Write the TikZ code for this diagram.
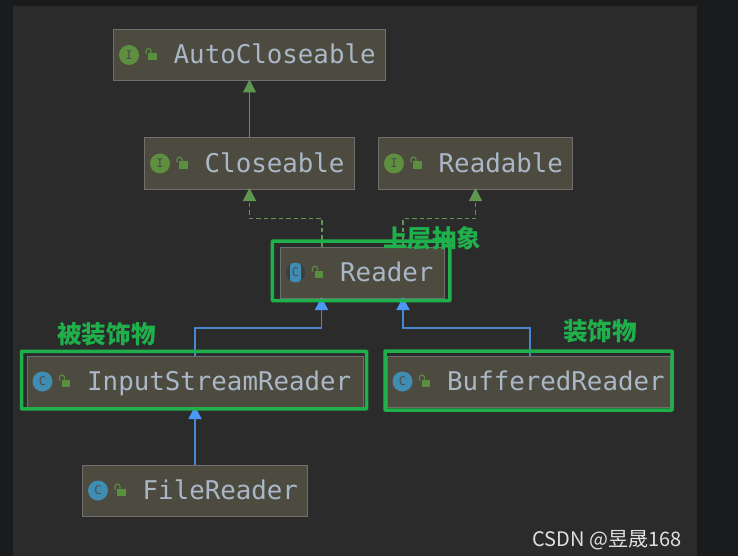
\documentclass[tikz,border=0pt]{standalone}
\usepackage{fontspec}
\usetikzlibrary{arrows.meta}
\setmonofont{DejaVu Sans Mono}
\newfontfamily\cjk{Noto Sans CJK SC}
\definecolor{outerbg}{HTML}{1A1B1D}
\definecolor{panelbg}{HTML}{2B2B2B}
\definecolor{boxfill}{HTML}{4D4A40}
\definecolor{boxline}{HTML}{6F6F6D}
\definecolor{nametext}{HTML}{A9B7C6}
\definecolor{ifacegreen}{HTML}{5E8F3F}
\definecolor{classblue}{HTML}{3F8DB3}
\definecolor{lockgreen}{HTML}{5A8F40}
\definecolor{implline}{HTML}{5F9650}
\definecolor{extline}{HTML}{4A85D0}
\definecolor{exttip}{HTML}{4C97F5}
\definecolor{markgreen}{HTML}{1FB04B}
\tikzset{
	umlbox/.style={draw=boxline,fill=boxfill,line width=1pt,minimum height=51pt,outer sep=0pt,inner sep=0pt},
	umlname/.style={text=nametext,font=\ttfamily\fontsize{25.8}{26}\selectfont,inner sep=0pt,anchor=base west},
	umlicon/.style={circle,minimum size=20pt,inner sep=0pt,text=black!70,font=\ttfamily\fontsize{12}{12}\selectfont},
	markbox/.style={draw=markgreen,line width=3.5pt,rounded corners=0.5pt,inner sep=0pt,outer sep=0pt},
	marktext/.style={text=markgreen,font=\cjk\bfseries\fontsize{24.4}{25}\selectfont,inner sep=0pt},
	impl/.style={-{Triangle[width=13pt,length=13pt]},implline,line width=1.3pt,shorten >=-1pt},
	extends/.style={-{Triangle[width=13pt,length=13pt,color=exttip]},extline,line width=1.3pt,shorten >=-1pt}
}
\begin{document}
\begin{tikzpicture}[x=1pt,y=-1pt]
	\useasboundingbox (0,0) rectangle (738,556);
	\fill[outerbg] (0,0) rectangle (738,556);
	\fill[panelbg] (13,6) rectangle (697,556);
	% class boxes with icon, lock and name
	\foreach \nm/\cx/\cy/\w/\ltr/\col/\txt in {
		autocloseable/249.5/55/272/I/ifacegreen/AutoCloseable,
		closeable/249.5/163.5/210/I/ifacegreen/Closeable,
		readable/475.5/163.5/194/I/ifacegreen/Readable,
		reader/362/272.5/164/C/classblue/Reader,
		inputreader/195/381.5/336/C/classblue/InputStreamReader,
		bufferedreader/528.5/381.5/283/C/classblue/BufferedReader,
		filereader/195/490.5/225/C/classblue/FileReader}{
		\node[umlbox,minimum width=\w pt] (\nm) at (\cx,\cy) {};
		\node[umlicon,fill=\col] (\nm-icon) at ([xshift=15.5pt]\nm.west) {\ltr};
		\fill[lockgreen] ([shift={(34.5,-2)}]\nm.west) rectangle ([shift={(43,5.5)}]\nm.west);
		\draw[lockgreen,line width=1.1pt] ([shift={(32.5,-1)}]\nm.west) -- ([shift={(32.5,-4)}]\nm.west) arc (180:360:2.5) -- ([shift={(37.5,-2)}]\nm.west);
		\node[umlname] (\nm-name) at ([shift={(60,8.5)}]\nm.west) {\txt};
	}
	% reader has a washed out icon
	\node[umlicon,fill=black!45!boxline] (readerring) at (reader-icon) {};
	\fill[classblue,rounded corners=3pt] (290,263) rectangle (301,282);
	\node[text=black!70,font=\ttfamily\fontsize{12}{12}\selectfont,inner sep=0pt] (readerletter) at (reader-icon) {C};
	% inheritance
	\draw[impl] (closeable) -- (autocloseable);
	\draw[impl,dash pattern=on 4.5pt off 3pt] ([xshift=-40pt]reader.north) -- ++(0,-28.5) -| (closeable.south);
	\draw[impl,dash pattern=on 4.5pt off 3pt] ([xshift=41pt]reader.north) -- ++(0,-28.5) -| (readable.south);
	\draw[extends] (inputreader.north) -- ++(0,-28) -| ([xshift=-40.5pt]reader.south);
	\draw[extends] ([xshift=1.5pt]bufferedreader.north) -- ++(0,-28) -| ([xshift=41pt]reader.south);
	\draw[extends] (filereader) -- (inputreader);
	% green marks
	\foreach \nm/\cx/\cy/\w/\h in {
		readermark/361.2/270.8/177.5/59.5,
		inputmark/194/380.2/345/57.5,
		bufferedmark/528.5/380.5/287/59}{
		\node[markbox,minimum width=\w pt,minimum height=\h pt] (\nm) at (\cx,\cy) {};
	}
	\node[marktext] (toplabel) at (432,238) {上层抽象};
	\node[marktext,font=\cjk\bfseries\fontsize{24.6}{25}\selectfont] (innerlabel) at (106.5,334) {被装饰物};
	\node[marktext,font=\cjk\bfseries\fontsize{24.6}{25}\selectfont] (outerlabel) at (600,331.5) {装饰物};
	\node[text=black!12,font=\cjk\fontsize{20}{20}\selectfont,inner sep=0pt] (csdn) at (607,540) {CSDN @昱晟168};
\end{tikzpicture}
\end{document}
